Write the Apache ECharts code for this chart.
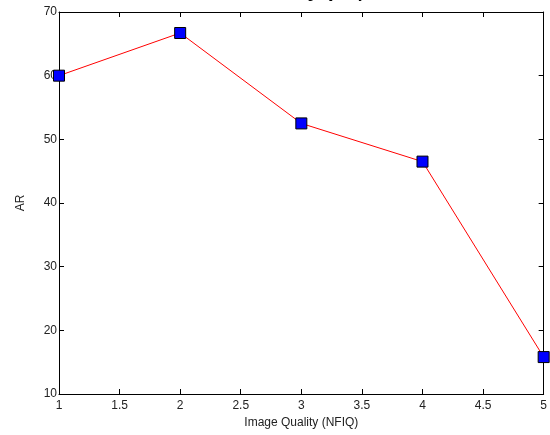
<!DOCTYPE html>
<html>
<head>
<meta charset="utf-8" />
<title>AR vs Image Quality</title>
<script src="https://cdn.jsdelivr.net/npm/echarts@6/dist/echarts.min.js"></script>
<style>
  body { margin: 0; background: #fff; }
  #main { width: 550px; height: 435px; }
</style>
</head>
<body>
<div id="main"></div>
<script type="text/javascript">
// data
var quality = [1, 2, 3, 4, 5];
var arValues = [60, 66.7, 52.5, 46.5, 15.8];

var points = quality.map(function (q, i) { return [q, arValues[i]]; });

var myChart = echarts.init(document.getElementById('main'));

var axisText = { color: '#222', fontSize: 12, fontFamily: 'Liberation Sans, Arial, sans-serif' };
var boxLine = { show: true, lineStyle: { color: '#000', width: 1 } };
var tickIn = { show: true, inside: true, length: 5, lineStyle: { color: '#000' } };

var option = {
    animation: false,
    title: {
        text: 'AR vs Image Quality',
        left: 302,
        textAlign: 'center',
        top: -16,
        textStyle: { color: '#000', fontSize: 12, fontWeight: 'bold', fontFamily: 'Liberation Sans, Arial, sans-serif' }
    },
    grid: { left: 59, right: 5, top: 12, bottom: 41 },
    xAxis: [{
        type: 'value',
        min: 1, max: 5, interval: 0.5,
        name: 'Image Quality (NFIQ)',
        nameLocation: 'middle',
        nameGap: 22,
        nameTextStyle: axisText,
        axisLine: boxLine,
        axisTick: tickIn,
        axisLabel: Object.assign({ margin: 6 }, axisText),
        splitLine: { show: false }
    }, {
        type: 'value',
        position: 'top',
        min: 1, max: 5, interval: 0.5,
        axisLine: boxLine,
        axisTick: tickIn,
        axisLabel: { show: false },
        splitLine: { show: false }
    }],
    yAxis: [{
        type: 'value',
        min: 10, max: 70, interval: 10,
        name: 'AR',
        nameLocation: 'middle',
        nameGap: 32,
        nameTextStyle: axisText,
        axisLine: boxLine,
        axisTick: tickIn,
        axisLabel: Object.assign({ margin: 2 }, axisText),
        splitLine: { show: false }
    }, {
        type: 'value',
        position: 'right',
        min: 10, max: 70, interval: 10,
        axisLine: boxLine,
        axisTick: tickIn,
        axisLabel: { show: false },
        splitLine: { show: false }
    }],
    series: [{
        type: 'line',
        xAxisIndex: 0,
        yAxisIndex: 0,
        data: points,
        clip: false,
        symbol: 'rect',
        symbolSize: 11,
        lineStyle: { color: '#ff0000', width: 1 },
        itemStyle: { color: '#0000ff', borderColor: '#000', borderWidth: 1 }
    }]
};

myChart.setOption(option);
</script>
</body>
</html>
